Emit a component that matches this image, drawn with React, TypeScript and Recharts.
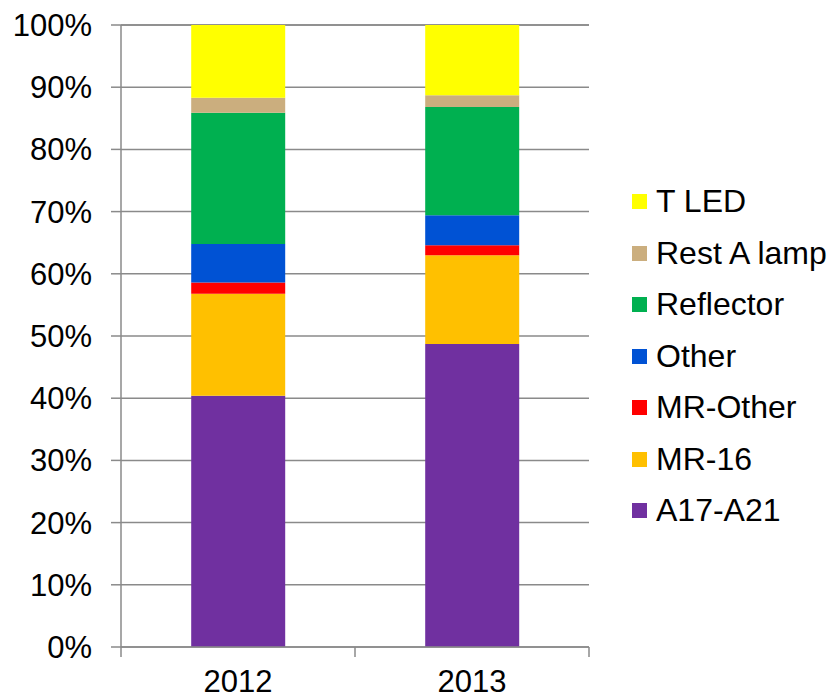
import React from 'react';
import { BarChart, Bar, XAxis, YAxis, CartesianGrid, Legend } from 'recharts';

const years = ['2012', '2013'];
const a17a21 = [40.4, 48.7];
const mr16 = [16.4, 14.3];
const mrOther = [1.8, 1.6];
const other = [6.2, 4.8];
const reflector = [21.1, 17.4];
const restALamp = [2.4, 1.9];
const tLed = [11.7, 11.3];
const yTicks = [0, 10, 20, 30, 40, 50, 60, 70, 80, 90, 100];

const series = [
  { key: 'a17', name: 'A17-A21', values: a17a21, color: '#7030A0' },
  { key: 'mr16', name: 'MR-16', values: mr16, color: '#FFC000' },
  { key: 'mrOther', name: 'MR-Other', values: mrOther, color: '#FF0000' },
  { key: 'other', name: 'Other', values: other, color: '#0052D4' },
  { key: 'reflector', name: 'Reflector', values: reflector, color: '#00B050' },
  { key: 'restA', name: 'Rest A lamp', values: restALamp, color: '#CBAE7E' },
  { key: 'tLed', name: 'T LED', values: tLed, color: '#FFFF00' },
];

const data = years.map((year, i) => {
  const row: Record<string, any> = { year };
  series.forEach((s) => {
    row[s.key] = s.values[i];
  });
  return row;
});

const FONT = '"Liberation Sans", Arial, sans-serif';
const GRID = '#8a8a8a';

// x ticks sit on the category boundaries, labels in the middle
const YearTick = (props: any) => {
  const { x, y, payload, index, visibleTicksCount } = props;
  const half = payload.offset || 0;
  const top = y - 23;
  return (
    <g>
      <line x1={x - half} x2={x - half} y1={top} y2={top + 10} stroke={GRID} strokeWidth={1.5} />
      {index === visibleTicksCount - 1 && (
        <line x1={x + half} x2={x + half} y1={top} y2={top + 10} stroke={GRID} strokeWidth={1.5} />
      )}
      <text x={x} y={y + 22} textAnchor="middle" fontSize={31} fontFamily={FONT} fill="#000">
        {payload.value}
      </text>
    </g>
  );
};

const LegendBox = (props: any) => {
  const items = [...(props.payload || [])].reverse();
  return (
    <div style={{ fontFamily: FONT, fontSize: 32, color: '#000', whiteSpace: 'nowrap' }}>
      {items.map((it: any) => (
        <div key={it.value} style={{ height: 51.5, display: 'flex', alignItems: 'center' }}>
          <span style={{ width: 15, height: 15, background: it.color, display: 'inline-block', marginRight: 9 }} />
          <span>{it.value}</span>
        </div>
      ))}
    </div>
  );
};

export default function App() {
  return (
    <div style={{ position: 'absolute', left: 0, top: 0, background: '#fff' }}>
      <BarChart
        width={833}
        height={699}
        data={data}
        margin={{ top: 25, right: 244, left: 0, bottom: 0 }}
        barCategoryGap="30%"
      >
        <CartesianGrid vertical={false} stroke={GRID} strokeWidth={1.5} />
        <XAxis
          dataKey="year"
          height={52}
          axisLine={{ stroke: GRID, strokeWidth: 1.5 }}
          tickLine={false}
          tickSize={10}
          tickMargin={13}
          tick={<YearTick />}
          interval={0}
        />
        <YAxis
          width={121}
          domain={[0, 100]}
          ticks={yTicks}
          tickFormatter={(v: number) => `${v}%`}
          axisLine={{ stroke: GRID, strokeWidth: 1.5 }}
          tickLine={{ stroke: GRID, strokeWidth: 1.5 }}
          tickSize={10}
          tickMargin={19}
          tick={{ fontSize: 31, fontFamily: FONT, fill: '#000' }}
          interval={0}
        />
        <Legend
          layout="horizontal"
          align="center"
          verticalAlign="middle"
          content={<LegendBox />}
          wrapperStyle={{ left: 632, top: 176, width: 201 }}
        />
        {series.map((s) => (
          <Bar key={s.key} dataKey={s.key} name={s.name} stackId="a" fill={s.color} isAnimationActive={false} />
        ))}
      </BarChart>
    </div>
  );
}
